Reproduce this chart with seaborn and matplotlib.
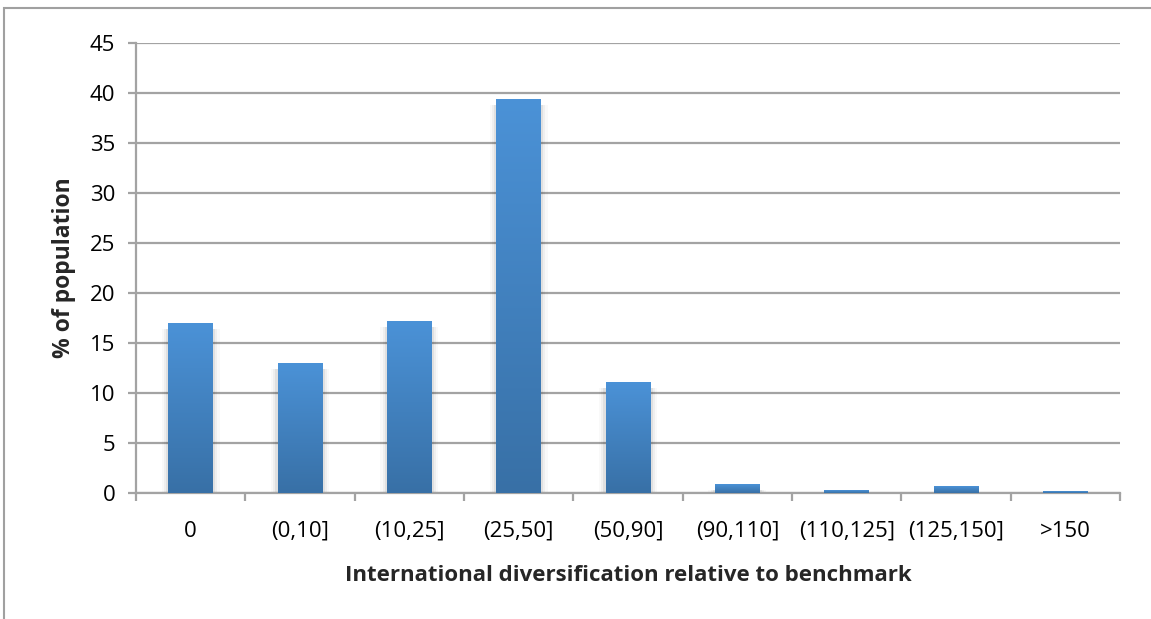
import numpy as np
import pandas as pd
import matplotlib
matplotlib.use("Agg")
import matplotlib.pyplot as plt
from matplotlib.patches import Rectangle
from matplotlib.colors import LinearSegmentedColormap
import seaborn as sns

categories = ["0", "(0,10]", "(10,25]", "(25,50]", "(50,90]",
              "(90,110]", "(110,125]", "(125,150]", ">150"]
share_pct = [17.0, 13.0, 17.2, 39.4, 11.1, 0.9, 0.3, 0.7, 0.2]
y_ticks = [0, 5, 10, 15, 20, 25, 30, 35, 40, 45]

df = pd.DataFrame({"bucket": categories, "share": share_pct})

sns.set_theme(style="white")
plt.rcParams["font.family"] = ["Open Sans", "DejaVu Sans"]

fig = plt.figure(figsize=(11.51, 6.19), dpi=100)
ax = fig.add_axes([136 / 1151, 1 - 493 / 619, (1120 - 136) / 1151, (493 - 43) / 619])

sns.barplot(data=df, x="bucket", y="share", ax=ax, width=0.41,
            color="#4a8fd2", saturation=1, edgecolor="none", zorder=3)

# vertical gradient fill with a soft drop shadow for each bar
grad = LinearSegmentedColormap.from_list("bar", ["#3870a6", "#4b92d7"])
for patch in list(ax.patches):
    x0, y0 = patch.get_x(), patch.get_y()
    w, h = patch.get_width(), patch.get_height()
    for k, a in enumerate([0.06, 0.04, 0.025]):
        d = 0.02 * (k + 1)
        ax.add_patch(Rectangle((x0 - d, y0), w + 2 * d, max(h - 0.6, 0.05),
                               facecolor="black", alpha=a, edgecolor="none", zorder=2))
    patch.set_visible(False)
    img = ax.imshow(np.linspace(0, 1, 256).reshape(-1, 1), cmap=grad, aspect="auto",
                    extent=[x0, x0 + w, y0, y0 + h], origin="lower", zorder=3,
                    interpolation="bilinear")
    clip = Rectangle((x0, y0), w, h, transform=ax.transData)
    img.set_clip_path(clip)

ax.set_xlim(-0.5, len(categories) - 0.5)
ax.set_ylim(0, 45)
ax.set_yticks(y_ticks)
ax.set_yticklabels([str(v) for v in y_ticks])

grid_col = "#a3a3a3"
ax.yaxis.grid(True, color=grid_col, linewidth=1.6, zorder=1)
ax.xaxis.grid(False)
ax.set_axisbelow(True)

for side in ["top", "right"]:
    ax.spines[side].set_visible(False)
for side in ["left", "bottom"]:
    ax.spines[side].set_color(grid_col)
    ax.spines[side].set_linewidth(1.6)

# category ticks sit on the boundaries between buckets
ax.set_xticks(np.arange(len(categories)))
ax.set_xticklabels(categories)
ax.set_xticks(np.arange(-0.5, len(categories), 1.0), minor=True)
ax.tick_params(axis="x", which="major", length=0, pad=20, labelsize=16, colors="black")
ax.tick_params(axis="x", which="minor", length=6, width=1.6, color=grid_col, bottom=True)
ax.tick_params(axis="y", which="major", length=6, width=1.6, color=grid_col,
               pad=9, labelsize=16, left=True)
ax.tick_params(axis="y", colors=grid_col, labelcolor="black")
ax.tick_params(axis="x", which="minor", colors=grid_col)

ax.set_xlabel("International diversification relative to benchmark",
              fontsize=16, fontweight="bold", labelpad=17)
ax.set_ylabel("% of population", fontsize=16.5, fontweight="bold", labelpad=10)

fig.patches.append(Rectangle((4 / 1151, -0.1), 1.2, 1 - 8 / 619 + 0.1,
                             transform=fig.transFigure, fill=False,
                             edgecolor="#a0a0a0", linewidth=1.5))

fig.savefig("out.png", dpi=100, facecolor="white")
